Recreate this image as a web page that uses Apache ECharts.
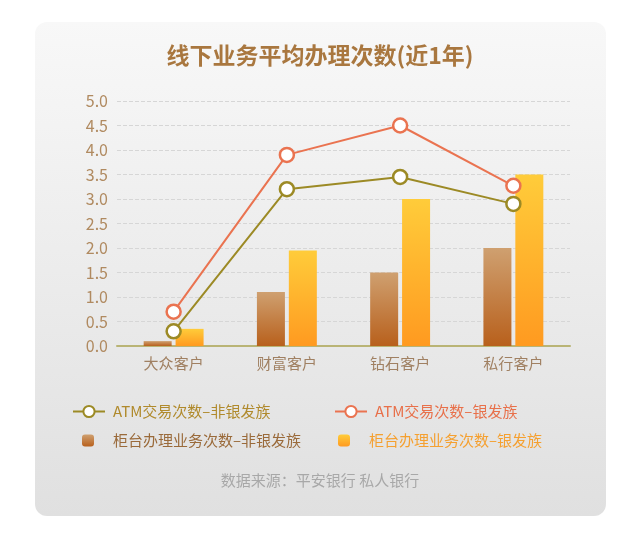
<!DOCTYPE html>
<html><head><meta charset="utf-8">
<script src="https://cdn.jsdelivr.net/npm/echarts@6/dist/echarts.min.js"></script>
<style>html,body{margin:0;padding:0;background:#fff;}#c{width:640px;height:538px;}</style>
</head><body><div id="c"></div>
<script>
var categories = ['大众客户', '财富客户', '钻石客户', '私行客户'];
var atmNonSilver = [0.3, 3.2, 3.45, 2.9];
var atmSilver = [0.7, 3.9, 4.5, 3.27];
var counterNonSilver = [0.1, 1.1, 1.5, 2.0];
var counterSilver = [0.35, 1.95, 3.0, 3.5];
var names = ['ATM交易次数–非银发族', 'ATM交易次数–银发族', '柜台办理业务次数–非银发族', '柜台办理业务次数–银发族'];

var chart = echarts.init(document.getElementById('c'));
var font = '"Noto Sans CJK SC", "Noto Sans", sans-serif';
function lg(name, left, top, color, square) {
  return {
    data: [name], left: left, top: top,
    itemWidth: square ? 12 : 32, itemHeight: square ? 12 : 14,
    textStyle: { color: color, fontSize: 15, fontFamily: font, padding: [0, 0, 0, square ? 14 : 3] }
  };
}
chart.setOption({
  animation: false,
  textStyle: { fontFamily: font },
  graphic: [{
    type: 'rect', z: -10, silent: true,
    shape: { x: 35, y: 22, width: 571, height: 494, r: 12 },
    style: {
      fill: new echarts.graphic.LinearGradient(0, 0, 0, 1, [
        { offset: 0, color: '#f8f8f8' }, { offset: 1, color: '#e0e0e0' }
      ])
    }
  }, {
    type: 'text', left: 'center', top: 473,
    style: { text: '数据来源：平安银行 私人银行', fill: '#a8a8a8', fontSize: 15, fontFamily: font }
  }],
  title: {
    text: '线下业务平均办理次数(近1年)', left: 'center', top: 39,
    textStyle: { color: '#a9773f', fontSize: 23, fontWeight: 'bold', fontFamily: font }
  },
  legend: [
    lg(names[0], 67, 399, '#b08a2c', false),
    lg(names[1], 329, 399, '#e8704a', false),
    lg(names[2], 77, 428, '#9a6a3a', true),
    lg(names[3], 333, 428, '#f5a030', true)
  ],
  grid: { left: 117, right: 70, top: 101, bottom: 192 },
  xAxis: {
    type: 'category', data: categories,
    axisLine: { lineStyle: { color: '#b9b475', width: 2 } },
    axisTick: { show: false },
    axisLabel: { color: '#a08062', fontSize: 15, margin: 10, fontFamily: font }
  },
  yAxis: {
    type: 'value', min: 0, max: 5, interval: 0.5,
    axisLine: { show: false }, axisTick: { show: false },
    axisLabel: { color: '#b08a60', fontSize: 16, margin: 9, formatter: function (v) { return v.toFixed(1); } },
    splitLine: { lineStyle: { color: '#d6d6d6', type: 'dashed', width: 1 } }
  },
  series: [{
    name: names[2], type: 'bar', data: counterNonSilver, barWidth: 28, barGap: '14%',
    itemStyle: { color: new echarts.graphic.LinearGradient(0, 0, 0, 1, [
      { offset: 0, color: '#cfa070' }, { offset: 1, color: '#b8601c' }]) }
  }, {
    name: names[3], type: 'bar', data: counterSilver, barWidth: 28, barGap: '14%',
    itemStyle: { color: new echarts.graphic.LinearGradient(0, 0, 0, 1, [
      { offset: 0, color: '#ffcc3a' }, { offset: 1, color: '#ff9a20' }]) }
  }, {
    name: names[0], type: 'line', data: atmNonSilver, symbol: 'circle', symbolSize: 14,
    lineStyle: { color: '#9c8a25', width: 2 },
    itemStyle: { color: '#fff', borderColor: '#9c8a25', borderWidth: 2.5 }, z: 5
  }, {
    name: names[1], type: 'line', data: atmSilver, symbol: 'circle', symbolSize: 14,
    lineStyle: { color: '#ea7350', width: 2 },
    itemStyle: { color: '#fff', borderColor: '#ea7350', borderWidth: 2.5 }, z: 5
  }]
});
</script></body></html>
